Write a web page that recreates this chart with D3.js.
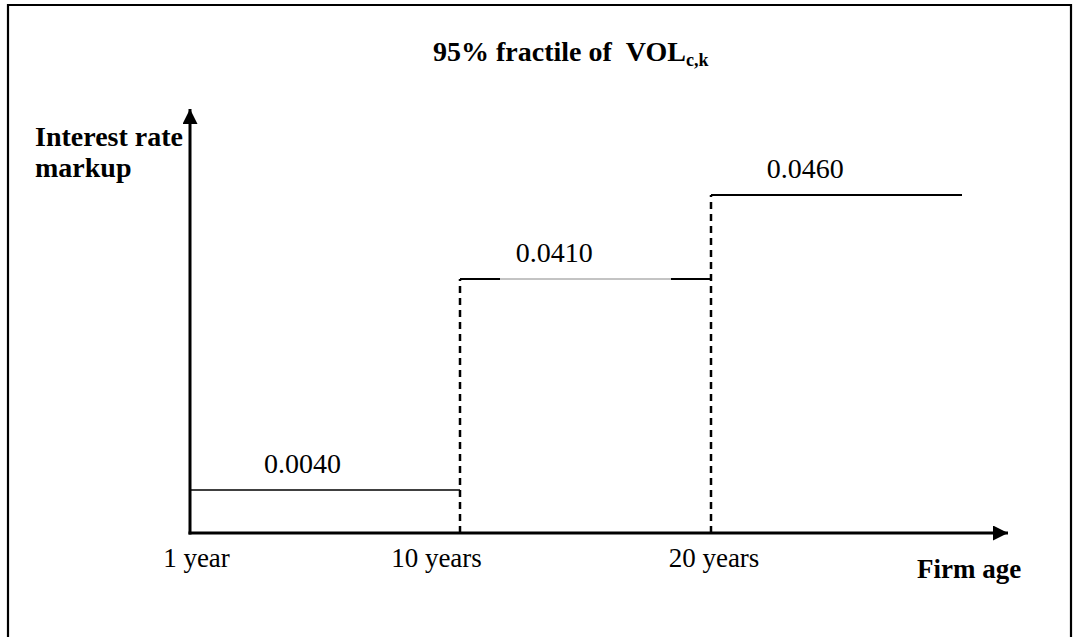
<!DOCTYPE html>
<html>
<head>
<meta charset="utf-8">
<script src="https://cdn.jsdelivr.net/npm/d3@7"></script>
<style>
  body { margin: 0; background: #fff; }
  svg text { font-family: "Liberation Serif", "Times New Roman", serif; fill: #000; }
</style>
</head>
<body>
<svg id="chart"></svg>
<script>
// step breakpoints (firm age in years); the last one is where the plot stops
const ages = [1, 10, 20, 30];
const markups = [0.004, 0.041, 0.046];
const markupLabels = ["0.0040", "0.0410", "0.0460"];
const tickAges = [1.2, 9.2, 20.1];
const tickLabels = ["1 year", "10 years", "20 years"];

const width = 1073;
const height = 637;
const fontSize = 27;
const bigFont = 28;
const labelShift = 3.75; // years after each step where its value label sits

const chart = d3
  .select("#chart")
  .attr("width", width)
  .attr("height", height);

// the picture is schematic, so both scales are piecewise
const xScale = d3.scaleLinear().domain(ages).range([190, 460, 711, 962]);
const yScale = d3
  .scaleLinear()
  .domain([0, ...markups])
  .range([533, 490, 279, 195]);

const x0 = xScale(ages[0]);
const y0 = yScale(0);

// frame (bottom edge falls outside the page)
chart
  .append("path")
  .attr("d", `M8,${height + 5}V5H1071V${height + 5}`)
  .attr("fill", "none")
  .attr("stroke", "#000")
  .attr("stroke-width", 2.2);

const defs = chart.append("defs");
defs
  .append("marker")
  .attr("id", "arrow")
  .attr("markerUnits", "userSpaceOnUse")
  .attr("viewBox", "0 0 16 16")
  .attr("refX", 16)
  .attr("refY", 8)
  .attr("markerWidth", 16)
  .attr("markerHeight", 15)
  .attr("orient", "auto")
  .append("path")
  .attr("d", "M0,0L16,8L0,16Z")
  .attr("fill", "#000");

// axes with arrows
chart
  .append("line")
  .attr("x1", x0)
  .attr("y1", y0 + 1.5)
  .attr("x2", x0)
  .attr("y2", 109)
  .attr("stroke", "#000")
  .attr("stroke-width", 3)
  .attr("marker-end", "url(#arrow)");

chart
  .append("line")
  .attr("x1", x0 - 1.5)
  .attr("y1", y0)
  .attr("x2", 1008)
  .attr("y2", y0)
  .attr("stroke", "#000")
  .attr("stroke-width", 3)
  .attr("marker-end", "url(#arrow)");

const steps = markups.map((v, i) => ({
  from: ages[i],
  to: ages[i + 1],
  value: v,
  label: markupLabels[i],
}));

// horizontal steps
chart
  .selectAll("line.step")
  .data(steps)
  .enter()
  .append("line")
  .attr("class", "step")
  .attr("x1", (d) => xScale(d.from))
  .attr("x2", (d) => xScale(d.to))
  .attr("y1", (d) => yScale(d.value))
  .attr("y2", (d) => yScale(d.value))
  .attr("stroke", (d, i) => (i === 1 ? "#888" : "#000"))
  .attr("stroke-width", (d, i) => (i === 1 ? 1 : i === 0 ? 1.5 : 2));

// the middle step is only drawn heavy near its ends
const mid = steps[1];
const midLen = xScale(mid.to) - xScale(mid.from);
chart
  .append("line")
  .attr("x1", xScale(mid.from))
  .attr("x2", xScale(mid.to))
  .attr("y1", yScale(mid.value))
  .attr("y2", yScale(mid.value))
  .attr("stroke", "#000")
  .attr("stroke-width", 2)
  .attr("stroke-dasharray", `40,${midLen - 80},40`);

// dashed risers at each step
chart
  .selectAll("line.riser")
  .data(steps.slice(1))
  .enter()
  .append("line")
  .attr("class", "riser")
  .attr("x1", (d) => xScale(d.from))
  .attr("x2", (d) => xScale(d.from))
  .attr("y1", y0)
  .attr("y2", (d) => yScale(d.value))
  .attr("stroke", "#000")
  .attr("stroke-width", 2.5)
  .attr("stroke-dasharray", "7,5");

// value labels
chart
  .selectAll("text.value")
  .data(steps)
  .enter()
  .append("text")
  .attr("class", "value")
  .attr("x", (d) => xScale(d.from + labelShift))
  .attr("y", (d) => yScale(d.value) - 17)
  .attr("text-anchor", "middle")
  .style("font-size", bigFont + "px")
  .text((d) => d.label);

// tick labels through a bottom axis
const xAxis = chart
  .append("g")
  .attr("transform", `translate(0, ${y0})`)
  .call(
    d3
      .axisBottom(xScale)
      .tickValues(tickAges)
      .tickFormat((d, i) => tickLabels[i])
      .tickSize(0)
      .tickPadding(15)
  );
xAxis.select(".domain").remove();
xAxis
  .selectAll("text")
  .attr("font-family", null)
  .style("font-size", fontSize + "px")
  .attr("fill", "#000");

// axis titles
chart
  .append("text")
  .attr("x", 917)
  .attr("y", 578)
  .style("font-size", fontSize + "px")
  .style("font-weight", "bold")
  .text("Firm age");

const yTitle = chart
  .append("text")
  .attr("x", 35)
  .attr("y", 146)
  .style("font-size", bigFont + "px")
  .style("font-weight", "bold");
yTitle.append("tspan").attr("x", 35).text("Interest rate");
yTitle.append("tspan").attr("x", 35).attr("dy", 31).text("markup");

// title with subscript
const title = chart
  .append("text")
  .attr("x", 433)
  .attr("y", 61)
  .style("font-size", bigFont + "px")
  .style("font-weight", "bold");
title.append("tspan").text("95% fractile of\u00a0\u00a0VOL");
title
  .append("tspan")
  .attr("dy", 5)
  .style("font-size", "18px")
  .text("c,k");
</script>
</body>
</html>
